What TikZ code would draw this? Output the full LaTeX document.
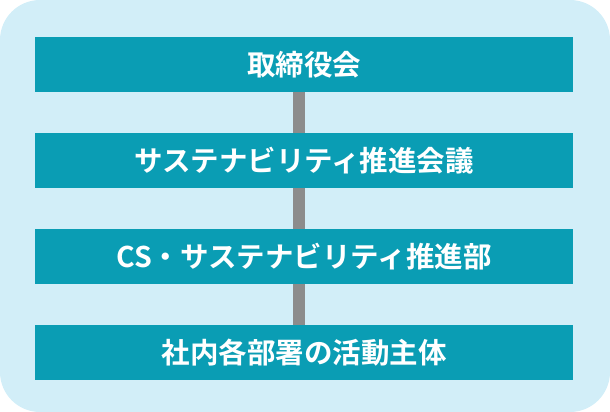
\documentclass[tikz,border=0pt]{standalone}
\usepackage{fontspec}
\newfontfamily\cjk{Noto Sans CJK JP}[BoldFont={* Bold}]
\definecolor{bgblue}{HTML}{D2EEF8}
\definecolor{teal}{HTML}{0A9DB4}
\definecolor{bargray}{HTML}{8C8C8C}
\begin{document}
\begin{tikzpicture}[x=1pt,y=-1pt,
  box/.style={fill=teal,draw=none,minimum width=538pt,minimum height=55pt,inner sep=0pt,
    text=white,font=\cjk\bfseries\fontsize{28.5}{32}\selectfont},
  bar/.style={draw=bargray,line width=12pt}]
\fill[bgblue,rounded corners=40pt] (0,0) rectangle (610,412);
\useasboundingbox (0,0) rectangle (610,412);
\node[box] (a) at (304,64.5) {取締役会};
\node[box] (b) at (304,160.5) {サステナビリティ推進会議};
\node[box] (c) at (304,256.5) {CS・サステナビリティ推進部};
\node[box] (d) at (304,352.5) {社内各部署の活動主体};
\draw[bar] (a.south -| 299,0) -- (b.north -| 299,0);
\draw[bar] (b.south -| 299,0) -- (c.north -| 299,0);
\draw[bar] (c.south -| 299,0) -- (d.north -| 299,0);
\end{tikzpicture}
\end{document}
